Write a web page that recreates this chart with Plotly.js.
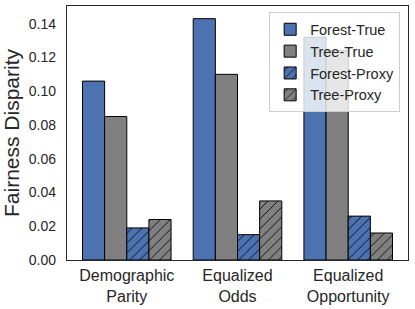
<!DOCTYPE html>
<html>
<head>
<meta charset="utf-8">
<script src="https://cdn.plot.ly/plotly-3.0.1.min.js"></script>
<style>html,body{margin:0;padding:0;background:#fff;}#chart{width:415px;height:309px;}</style>
</head>
<body>
<div id="chart"></div>
<script>
var categories = ["Demographic<br>Parity", "Equalized<br>Odds", "Equalized<br>Opportunity"];
var seriesNames = ["Forest-True", "Tree-True", "Forest-Proxy", "Tree-Proxy"];
var forestTrue = [0.106, 0.143, 0.132];
var treeTrue = [0.085, 0.110, 0.124];
var forestProxy = [0.019, 0.015, 0.026];
var treeProxy = [0.024, 0.035, 0.016];
var yTicks = [0, 0.02, 0.04, 0.06, 0.08, 0.10, 0.12, 0.14];

var blue = "#4c72b0", gray = "#808080";
function mk(name, vals, color, hatch) {
  var marker = {color: color, line: {color: "#000", width: 1}};
  if (hatch) marker.pattern = {shape: "/", fgcolor: "#000", bgcolor: color, size: 7, solidity: 0.12, fillmode: "replace"};
  return {type: "bar", name: name, x: [0, 1, 2], y: vals, marker: marker};
}
var data = [
  mk(seriesNames[0], forestTrue, blue, false),
  mk(seriesNames[1], treeTrue, gray, false),
  mk(seriesNames[2], forestProxy, blue, true),
  mk(seriesNames[3], treeProxy, gray, true)
];
var layout = {
  width: 415, height: 309,
  margin: {l: 67, r: 7, t: 6, b: 49},
  paper_bgcolor: "#fff", plot_bgcolor: "#fff",
  barmode: "group", bargap: 0.2, bargroupgap: 0,
  font: {family: "Liberation Sans, Arial, sans-serif", color: "#262626"},
  xaxis: {
    range: [-0.54, 2.54], tickmode: "array", tickvals: [0, 1, 2], ticktext: categories,
    tickfont: {size: 16}, showgrid: false, zeroline: false,
    showline: true, mirror: true, linecolor: "#262626", linewidth: 1.2,
    ticks: "outside", ticklen: 1, tickcolor: "rgba(0,0,0,0)"
  },
  yaxis: {
    range: [0, 0.1505], tickmode: "array", tickvals: yTicks,
    ticktext: yTicks.map(function(v){return v.toFixed(2);}),
    tickfont: {size: 14}, showgrid: false, zeroline: false,
    showline: true, mirror: true, linecolor: "#262626", linewidth: 1.2,
    ticks: "outside", ticklen: 7, tickcolor: "rgba(0,0,0,0)",
    title: {text: "Fairness Disparity", font: {size: 21}, standoff: 4}
  },
  legend: {
    x: 0.977, y: 0.975, xanchor: "right", yanchor: "top",
    bgcolor: "rgba(255,255,255,0.8)", bordercolor: "#cccccc", borderwidth: 1,
    font: {size: 14.5}, itemwidth: 30, tracegroupgap: 0
  },
  showlegend: true
};
Plotly.newPlot("chart", data, layout, {displayModeBar: false, staticPlot: true});
</script>
</body>
</html>
